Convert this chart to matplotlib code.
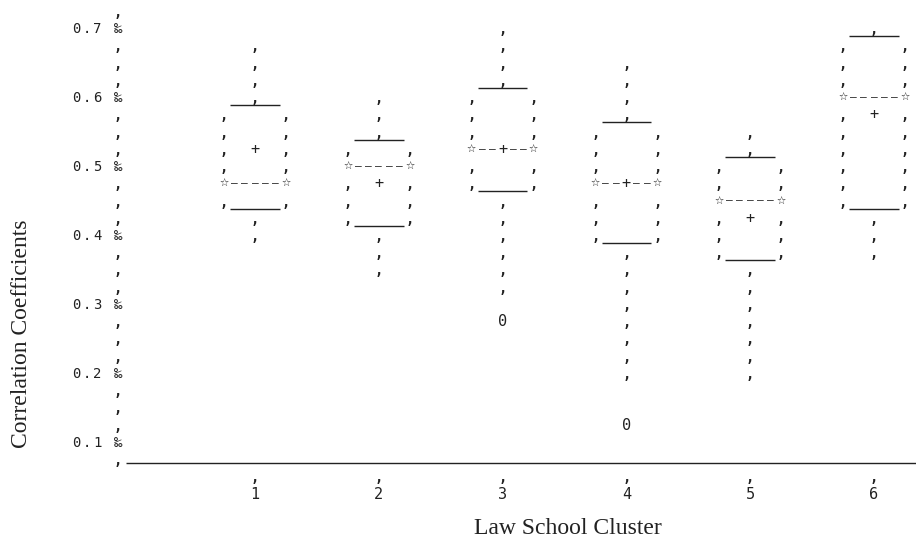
import numpy as np
import matplotlib
matplotlib.use('Agg')
import matplotlib.pyplot as plt
from matplotlib.transforms import offset_copy

# ==========================================
# data
# ==========================================
clusters = [1, 2, 3, 4, 5, 6]
whisker_hi = [0.675, 0.600, 0.700, 0.650, 0.550, 0.700]
q3 = [0.600, 0.550, 0.625, 0.575, 0.525, 0.700]
medians = [0.475, 0.500, 0.525, 0.475, 0.450, 0.600]
means = [0.525, 0.475, 0.525, 0.475, 0.425, 0.575]
q1 = [0.450, 0.425, 0.475, 0.400, 0.375, 0.450]
whisker_lo = [0.400, 0.350, 0.325, 0.200, 0.200, 0.375]
outliers = {3: [0.275], 4: [0.125]}
y_ticks = [0.1, 0.2, 0.3, 0.4, 0.5, 0.6, 0.7]
y_tick_labels = ['0.1', '0.2', '0.3', '0.4', '0.5', '0.6', '0.7']
x_tick_labels = ['1', '2', '3', '4', '5', '6']

# printer grid: one text row = 0.025, one character = 1/12 cluster
step = 0.025
cw = 1 / 12
axis_x = -0.107
ink = '#222222'
mono = ['DejaVu Sans Mono', 'DejaVu Sans']

fig = plt.figure(figsize=(9.16, 5.41), dpi=100)
ax = fig.add_axes([0, 0, 1, 1])
ax.set_xlim(-1.06, 6.34)
ax.set_ylim(-0.0435, 0.7406)
ax.axis('off')

t_comma = offset_copy(ax.transData, fig, y=-6, units='dots')
t_char = offset_copy(ax.transData, fig, y=-5, units='dots')
t_line = offset_copy(ax.transData, fig, y=-8, units='dots')
t_axis = offset_copy(ax.transData, fig, y=-4, units='dots')
t_star = offset_copy(ax.transData, fig, y=-4, units='dots')
t_dash = offset_copy(ax.transData, fig, y=-3, units='dots')


def comma(x, y):
    ax.text(x, y, ',', ha='center', va='baseline', transform=t_comma,
            family=mono, fontsize=10, fontweight='bold', color=ink)


def char(x, y, s, size=10, tr=None):
    ax.text(x, y, s, ha='center', va='baseline', transform=tr or t_char,
            family=mono, fontsize=size, color=ink)


def rows(lo, hi):
    n = int(round((hi - lo) / step))
    return [lo + i * step for i in range(n + 1)] if n >= 0 else []


# --- vertical axis made of characters ---
for r in rows(y_ticks[0] - step, y_ticks[-1] + step):
    if any(abs(r - t) < 1e-6 for t in y_ticks):
        char(axis_x, r, '\u2030', size=10)
    else:
        comma(axis_x, r)

for t, lab in zip(y_ticks, y_tick_labels):
    for i, c in enumerate(lab):
        char(axis_x - (4 - i) * cw, t, c)

# --- horizontal axis ---
base = y_ticks[0] - step
ax.hlines(base, axis_x + 0.065, 6.34, color=ink, lw=1.0, transform=t_axis)
for x, lab in zip(clusters, x_tick_labels):
    comma(x, base - step)
    char(x, base - 2 * step, lab, size=11)

# --- boxes ---
for i, c in enumerate(clusters):
    # upper whisker
    for r in rows(q3[i], whisker_hi[i]):
        comma(c, r)
    ax.hlines(q3[i], c - 0.2, c + 0.2, color=ink, lw=1.0, transform=t_line)
    # box body
    for r in rows(q1[i], q3[i] - step):
        if abs(r - medians[i]) < 1e-6:
            char(c - 3 * cw, r, '\u2606', size=11, tr=t_star)
            char(c + 3 * cw, r, '\u2606', size=11, tr=t_star)
            for k in [-2, -1, 0, 1, 2]:
                if k == 0 and abs(means[i] - medians[i]) < 1e-6:
                    continue
                char(c + k * cw, r, '\u2013', size=8, tr=t_dash)
        else:
            comma(c - 3 * cw, r)
            comma(c + 3 * cw, r)
    ax.hlines(q1[i], c - 0.2, c + 0.2, color=ink, lw=1.0, transform=t_line)
    # mean
    char(c, means[i], '+', size=11)
    # lower whisker
    for r in rows(whisker_lo[i], q1[i] - step):
        comma(c, r)
    for o in outliers.get(c, []):
        char(c, o, '0', size=11)

fig.text(568 / 916, 1 - 528 / 541, 'Law School Cluster', ha='center', va='center',
         family='Liberation Serif', fontsize=17, color='#222222')
fig.text(22 / 916, 1 - 334 / 541, 'Correlation Coefficients', ha='center', va='center',
         rotation=90, family='Liberation Serif', fontsize=17, color='#222222')

fig.savefig('out.png', dpi=100)
